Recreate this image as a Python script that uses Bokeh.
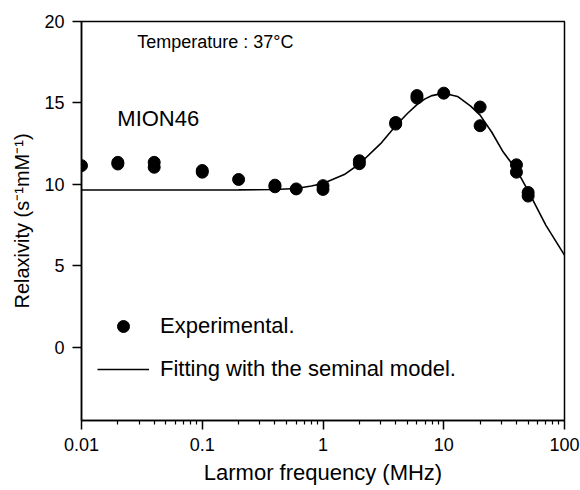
from bokeh.plotting import figure
from bokeh.models import (FixedTicker, CustomJSTickFormatter, Legend, LegendItem,
                          Label, Range1d, ColumnDataSource)
from bokeh.embed import file_html
from bokeh.resources import INLINE

# ---- data ----
exp_freq = [0.01, 0.02, 0.02, 0.04, 0.04, 0.1, 0.1, 0.2, 0.4, 0.4, 0.6,
            1, 1, 2, 2, 4, 4, 6, 6, 10, 20, 20, 40, 40, 50, 50]
exp_relax = [11.15, 11.35, 11.25, 11.35, 11.05, 10.85, 10.75, 10.3, 9.95, 9.85, 9.72,
             9.92, 9.69, 11.45, 11.27, 13.8, 13.7, 15.45, 15.3, 15.6, 14.75, 13.6,
             11.2, 10.75, 9.5, 9.28]

fit_freq = [0.01, 0.03, 0.1, 0.2, 0.4, 0.6, 0.8, 1, 1.5, 2, 3, 4, 5, 6, 7, 8,
            10, 13, 16.7, 20, 25, 31, 40, 50, 70, 100]
fit_relax = [9.65, 9.65, 9.65, 9.66, 9.68, 9.75, 9.9, 10.05, 10.6, 11.25, 12.5,
             13.6, 14.35, 14.9, 15.25, 15.45, 15.6, 15.4, 14.8, 14.25, 13.2, 12.0,
             10.9, 9.6, 7.5, 5.65]

x_ticks = [0.01, 0.1, 1, 10, 100]
x_tick_labels = ["0.01", "0.1", "1", "10", "100"]
y_ticks = [0, 5, 10, 15, 20]

FONT = "Liberation Sans"

p = figure(width=580, height=490, x_axis_type="log",
           x_range=Range1d(0.01, 100), y_range=Range1d(-4.5, 20),
           output_backend="svg", toolbar_location=None,
           min_border_left=81, min_border_right=16,
           min_border_top=21, min_border_bottom=70)

p.background_fill_color = "white"
p.border_fill_color = "white"
p.grid.visible = False
p.outline_line_color = "black"
p.outline_line_width = 1.5

fit = p.line(fit_freq, fit_relax, line_color="black", line_width=1.6)
src = ColumnDataSource(dict(x=exp_freq, y=exp_relax))
pts = p.scatter("x", "y", source=src, size=12, fill_color="black", line_color="black")

# x axis
minor = [k * d for d in [0.01, 0.1, 1, 10] for k in range(2, 10)]
p.xaxis.ticker = FixedTicker(ticks=x_ticks, minor_ticks=minor)
p.xaxis.formatter = CustomJSTickFormatter(
    args=dict(tvals=x_ticks, tlabels=x_tick_labels),
    code="""
    let best = 0, bd = Infinity;
    for (let i = 0; i < tvals.length; i++) {
        const d = Math.abs(Math.log10(tick) - Math.log10(tvals[i]));
        if (d < bd) { bd = d; best = i; }
    }
    return tlabels[best];
    """)
p.xaxis.axis_label = "Larmor frequency (MHz)"

# y axis
p.yaxis.ticker = FixedTicker(ticks=y_ticks, minor_ticks=[])
p.yaxis.axis_label = "Relaxivity (s\u207b\u00b9mM\u207b\u00b9)"

for ax in (p.xaxis[0], p.yaxis[0]):
    ax.axis_line_color = "black"
    ax.axis_line_width = 1.5
    ax.major_tick_line_color = "black"
    ax.major_tick_line_width = 1.5
    ax.minor_tick_line_color = "black"
    ax.minor_tick_line_width = 1.2
    ax.major_tick_in = 0
    ax.major_tick_out = 9
    ax.minor_tick_in = 0
    ax.minor_tick_out = 4
    ax.major_label_text_font = FONT
    ax.major_label_text_font_size = "18px"
    ax.major_label_text_color = "black"
    ax.axis_label_text_font = FONT
    ax.axis_label_text_font_style = "normal"
    ax.axis_label_text_color = "black"

p.xaxis.major_label_standoff = 8
p.xaxis.axis_label_text_font_size = "22px"
p.xaxis.axis_label_standoff = 6
p.yaxis.major_label_standoff = 8
p.yaxis.axis_label_text_font_size = "20px"
p.yaxis.axis_label_standoff = 8

# annotations
p.add_layout(Label(x=0.0289, y=18.73, text="Temperature : 37\u00b0C",
                   text_font=FONT, text_font_size="18px", text_color="black",
                   text_baseline="alphabetic"))
p.add_layout(Label(x=0.0198, y=14.05, text="MION46",
                   text_font=FONT, text_font_size="22px", text_color="black",
                   text_baseline="alphabetic"))

legend = Legend(items=[LegendItem(label="Experimental.", renderers=[pts]),
                       LegendItem(label="Fitting with the seminal model.", renderers=[fit])],
                location=(16, 36), orientation="vertical",
                glyph_width=52, glyph_height=30, label_height=30,
                label_standoff=11, spacing=13, padding=0, margin=0,
                border_line_color=None, background_fill_alpha=0,
                label_text_font=FONT, label_text_font_size="22px",
                label_text_color="black")
p.add_layout(legend)

open("out.html", "w").write(file_html(p, INLINE))
